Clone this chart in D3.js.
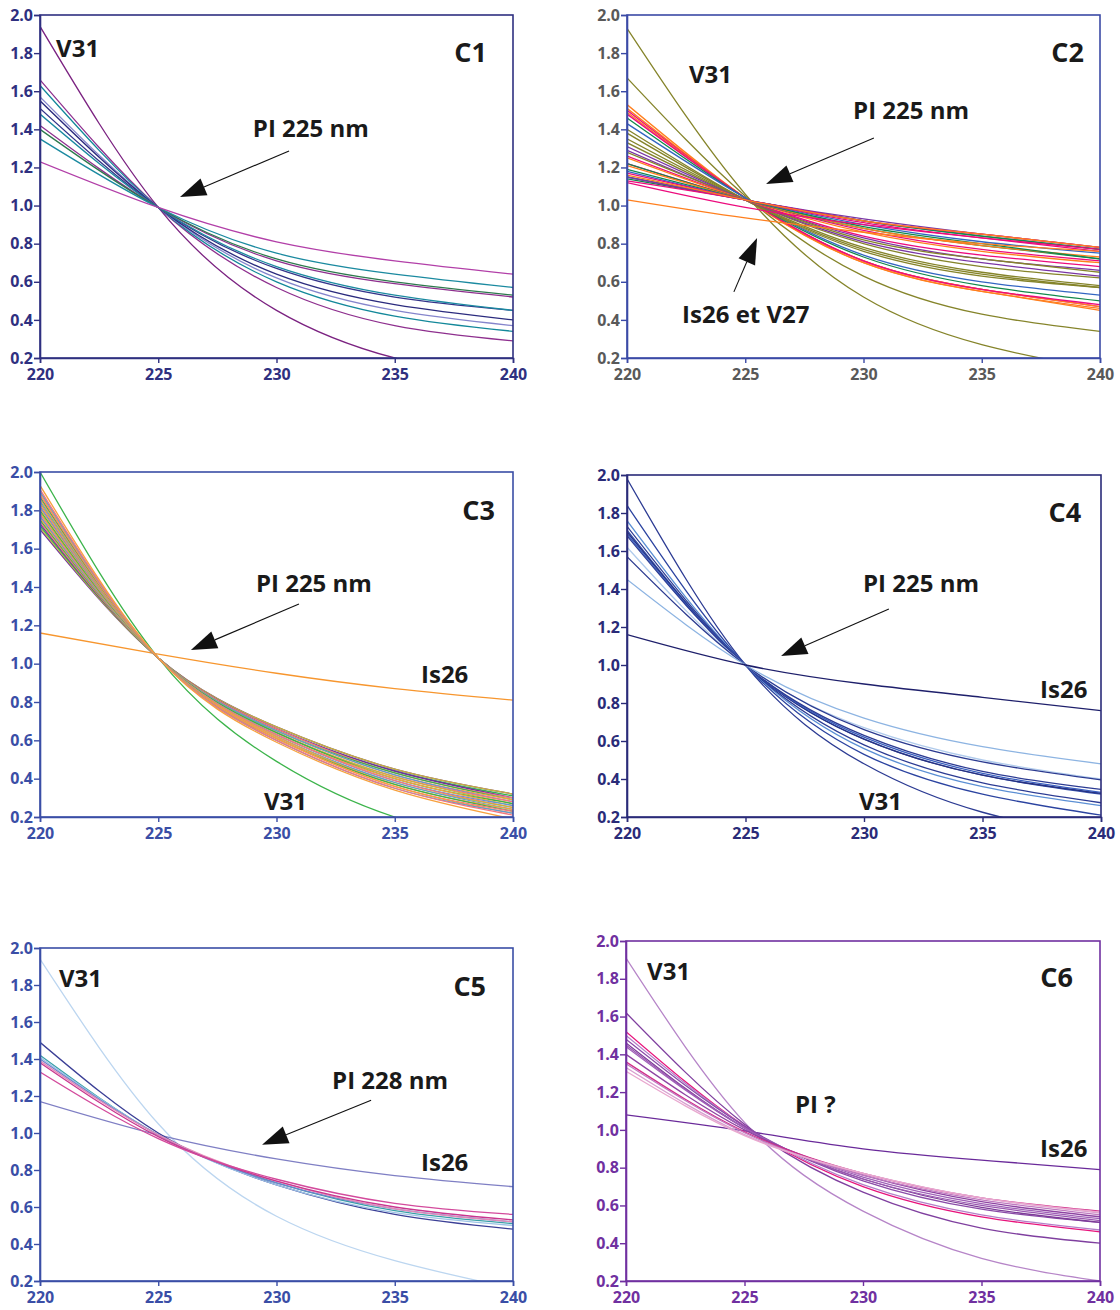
<!DOCTYPE html>
<html><head><meta charset="utf-8">
<script src="https://cdn.jsdelivr.net/npm/d3@7"></script>
<style>
body{margin:0;background:#fff}
svg{display:block}
text{font-family:"Open Sans","DejaVu Sans",sans-serif;font-weight:700}
</style>
</head><body>
<svg id="chart" width="1120" height="1310"></svg>
<script>
// ---------- DATA ----------
const wavelengths = [220, 225, 230, 235, 240];
const xTickValues = [220, 225, 230, 235, 240];
const yTickValues = [0.2, 0.4, 0.6, 0.8, 1.0, 1.2, 1.4, 1.6, 1.8, 2.0];

// C1 — values at 220, 225, 230, 235, 240 nm
const c1Curves = [
  [1.94, 0.99, 0.45, 0.20, 0.08],
  [1.66, 0.99, 0.57, 0.37, 0.29],
  [1.63, 0.99, 0.60, 0.42, 0.34],
  [1.57, 0.99, 0.62, 0.45, 0.37],
  [1.55, 0.99, 0.64, 0.48, 0.40],
  [1.51, 0.99, 0.67, 0.52, 0.45],
  [1.48, 0.99, 0.68, 0.53, 0.45],
  [1.42, 0.99, 0.71, 0.59, 0.52],
  [1.40, 0.99, 0.72, 0.60, 0.53],
  [1.35, 0.99, 0.75, 0.64, 0.57],
  [1.23, 0.99, 0.81, 0.71, 0.64]
];
const c1Colors = ["#7b2281","#8e2f8e","#13889a","#8585cc","#2b2b7e","#34348a","#1b8aa0","#8e2f8e","#2d7a4d","#1b8aa0","#b23fa8"];

// C2
const c2Curves = [
  [1.93, 1.06, 0.52, 0.27, 0.14],
  [1.67, 1.05, 0.63, 0.43, 0.34],
  [1.53, 1.04, 0.70, 0.55, 0.45],
  [1.51, 1.04, 0.70, 0.55, 0.46],
  [1.50, 1.04, 0.71, 0.56, 0.47],
  [1.49, 1.04, 0.71, 0.56, 0.47],
  [1.48, 1.04, 0.71, 0.56, 0.48],
  [1.46, 1.04, 0.73, 0.58, 0.50],
  [1.43, 1.04, 0.74, 0.60, 0.53],
  [1.40, 1.03, 0.76, 0.63, 0.57],
  [1.38, 1.03, 0.77, 0.64, 0.57],
  [1.35, 1.03, 0.78, 0.65, 0.58],
  [1.33, 1.03, 0.80, 0.68, 0.62],
  [1.31, 1.03, 0.81, 0.70, 0.63],
  [1.29, 1.03, 0.83, 0.72, 0.66],
  [1.28, 1.03, 0.82, 0.72, 0.65],
  [1.26, 1.03, 0.84, 0.74, 0.68],
  [1.25, 1.03, 0.86, 0.76, 0.70],
  [1.22, 1.03, 0.87, 0.77, 0.71],
  [1.22, 1.03, 0.88, 0.79, 0.72],
  [1.21, 1.03, 0.88, 0.79, 0.73],
  [1.19, 1.03, 0.89, 0.80, 0.72],
  [1.18, 1.03, 0.90, 0.81, 0.75],
  [1.17, 1.03, 0.91, 0.83, 0.76],
  [1.15, 1.03, 0.92, 0.84, 0.77],
  [1.14, 1.03, 0.92, 0.84, 0.77],
  [1.15, 1.03, 0.93, 0.85, 0.78],
  [1.13, 1.03, 0.92, 0.85, 0.78],
  [1.16, 1.03, 0.92, 0.85, 0.78],
  [1.12, 0.99, 0.90, 0.83, 0.77],
  [1.03, 0.935, 0.86, 0.80, 0.76]
];
const c2Colors = ["#85842a","#85842a","#ff7f1e","#ff7f1e","#ec0b7d","#ff7f1e","#ec0b7d","#12884a","#3366c2",
  "#85842a","#85842a","#85842a","#85842a","#7a35a5","#7a35a5","#85842a","#ec0b7d","#ff7f1e","#ec0b7d",
  "#12884a","#ff7f1e","#12884a","#3366c2","#ec0b7d","#12884a","#12884a","#7a35a5","#ec0b7d","#ff7f1e","#ec0b7d","#ff7f1e"];

// C3
const c3Curves = [
  [2.00, 1.03, 0.49, 0.20, 0.06],
  [1.16, 1.05, 0.95, 0.87, 0.81],
  [1.70, 1.03, 0.67, 0.45, 0.32],
  [1.71, 1.03, 0.67, 0.45, 0.32],
  [1.72, 1.03, 0.66, 0.44, 0.31],
  [1.73, 1.03, 0.66, 0.44, 0.30],
  [1.74, 1.03, 0.66, 0.43, 0.30],
  [1.75, 1.03, 0.65, 0.43, 0.29],
  [1.76, 1.03, 0.65, 0.42, 0.29],
  [1.77, 1.03, 0.65, 0.42, 0.28],
  [1.78, 1.03, 0.64, 0.41, 0.28],
  [1.79, 1.03, 0.64, 0.41, 0.27],
  [1.80, 1.03, 0.64, 0.40, 0.27],
  [1.81, 1.03, 0.63, 0.40, 0.26],
  [1.82, 1.03, 0.63, 0.39, 0.26],
  [1.83, 1.03, 0.63, 0.39, 0.25],
  [1.84, 1.03, 0.62, 0.38, 0.25],
  [1.85, 1.03, 0.62, 0.38, 0.24],
  [1.86, 1.03, 0.62, 0.37, 0.24],
  [1.87, 1.03, 0.61, 0.37, 0.23],
  [1.88, 1.03, 0.61, 0.36, 0.23],
  [1.89, 1.03, 0.61, 0.36, 0.22],
  [1.90, 1.03, 0.60, 0.35, 0.22],
  [1.91, 1.03, 0.60, 0.35, 0.21],
  [1.93, 1.03, 0.59, 0.34, 0.19]
];
const c3Colors = ["#3cb44b","#f7962e","#7030a0","#c8b43c","#3cb44b","#7030a0","#f4777f","#3cb44b","#f7a13e","#5b9bd5",
  "#f4777f","#c8b43c","#3cb44b","#f7a13e","#5b9bd5","#f4777f","#c8b43c","#5b9bd5","#f7a13e","#3cb44b","#f4777f",
  "#f7a13e","#5b9bd5","#f4777f","#f7a13e"];

// C4
const c4Curves = [
  [1.98, 1.00, 0.48, 0.225, 0.10],
  [1.84, 1.00, 0.53, 0.32, 0.21],
  [1.76, 1.00, 0.56, 0.36, 0.26],
  [1.73, 1.00, 0.58, 0.38, 0.275],
  [1.71, 1.00, 0.61, 0.42, 0.32],
  [1.70, 1.00, 0.61, 0.42, 0.325],
  [1.69, 1.00, 0.62, 0.43, 0.33],
  [1.68, 1.00, 0.63, 0.44, 0.345],
  [1.62, 1.00, 0.67, 0.50, 0.40],
  [1.57, 1.00, 0.66, 0.49, 0.395],
  [1.45, 1.00, 0.72, 0.57, 0.48],
  [1.16, 1.00, 0.90, 0.83, 0.76]
];
const c4Colors = ["#2c3b93","#2b43a0","#5b8fd4","#2c3b93","#3451ad","#27307f","#3a5fbf","#2c3b93","#b0cbec","#2b3a90","#8db4e2","#1e1f6b"];

// C5
const c5Curves = [
  [1.94, 1.05, 0.55, 0.31, 0.16],
  [1.17, 0.99, 0.86, 0.77, 0.71],
  [1.49, 1.00, 0.72, 0.56, 0.48],
  [1.42, 0.99, 0.73, 0.58, 0.51],
  [1.41, 0.99, 0.72, 0.57, 0.50],
  [1.40, 0.99, 0.73, 0.59, 0.52],
  [1.39, 0.99, 0.74, 0.59, 0.52],
  [1.38, 0.98, 0.74, 0.60, 0.53],
  [1.33, 0.97, 0.75, 0.62, 0.56]
];
const c5Colors = ["#bcd6f0","#7f7fc4","#3b3f96","#3aa0a8","#9dc3e6","#6a85cc","#e58ab8","#c9378f","#d34a9c"];

// C6
const c6Curves = [
  [1.91, 1.04, 0.57, 0.32, 0.20],
  [1.08, 0.995, 0.90, 0.84, 0.79],
  [1.62, 1.03, 0.67, 0.48, 0.40],
  [1.52, 1.02, 0.70, 0.54, 0.46],
  [1.50, 1.02, 0.71, 0.55, 0.47],
  [1.48, 1.02, 0.73, 0.58, 0.51],
  [1.46, 1.01, 0.74, 0.59, 0.51],
  [1.45, 1.01, 0.74, 0.60, 0.52],
  [1.44, 1.01, 0.75, 0.61, 0.53],
  [1.40, 1.00, 0.76, 0.62, 0.54],
  [1.36, 0.99, 0.77, 0.64, 0.57],
  [1.35, 0.985, 0.76, 0.63, 0.55],
  [1.33, 0.975, 0.77, 0.64, 0.56],
  [1.31, 0.97, 0.77, 0.64, 0.565]
];
const c6Colors = ["#b685c8","#6a2a9a","#7f3f9f","#e8137b","#b280c8","#8a4aa8","#7d3c98","#9a58b0","#a060b8","#8e44a2","#d22f8a","#c07ac0","#d8a0d0","#e9a8cf"];

// Annotations (data coordinates: wavelength, value)
const c1Notes = [
  {text:"V31", x:220.68, y:1.78, kind:"label"},
  {text:"C1", x:238.9, y:1.753, kind:"title"},
  {text:"PI 225 nm", x:229.0, y:1.36, kind:"label"}
];
const c1Arrows = [{x1:230.53, y1:1.286, x2:225.92, y2:1.045}];
const c2Notes = [
  {text:"V31", x:222.62, y:1.643, kind:"label"},
  {text:"C2", x:239.32, y:1.753, kind:"title"},
  {text:"PI 225 nm", x:229.56, y:1.454, kind:"label"},
  {text:"Is26 et V27", x:222.33, y:0.384, kind:"label"}
];
const c2Arrows = [{x1:230.44, y1:1.355, x2:225.88, y2:1.113}, {x1:224.52, y1:0.547, x2:225.50, y2:0.830}];
const c3Notes = [
  {text:"C3", x:239.24, y:1.75, kind:"title"},
  {text:"PI 225 nm", x:229.13, y:1.374, kind:"label"},
  {text:"Is26", x:236.11, y:0.899, kind:"label"},
  {text:"V31", x:229.47, y:0.237, kind:"label"}
];
const c3Arrows = [{x1:230.95, y1:1.311, x2:226.38, y2:1.071}];
const c4Notes = [
  {text:"C4", x:239.16, y:1.753, kind:"title"},
  {text:"PI 225 nm", x:229.96, y:1.384, kind:"label"},
  {text:"Is26", x:237.43, y:0.826, kind:"label"},
  {text:"V31", x:229.79, y:0.237, kind:"label"}
];
const c4Arrows = [{x1:231.05, y1:1.295, x2:226.50, y2:1.047}];
const c5Notes = [
  {text:"V31", x:220.80, y:1.79, kind:"label"},
  {text:"C5", x:238.86, y:1.738, kind:"title"},
  {text:"PI 228 nm", x:232.35, y:1.236, kind:"label"},
  {text:"Is26", x:236.11, y:0.793, kind:"label"}
];
const c5Arrows = [{x1:234.0, y1:1.177, x2:229.39, y2:0.937}];
const c6Notes = [
  {text:"V31", x:220.89, y:1.796, kind:"label"},
  {text:"C6", x:238.86, y:1.754, kind:"title"},
  {text:"PI ?", x:227.13, y:1.089, kind:"label"},
  {text:"Is26", x:237.47, y:0.859, kind:"label"}
];
const c6Arrows = [];

// ---------- LAYOUT ----------
const panels = [
  {id:"c1", curves:c1Curves, colors:c1Colors, notes:c1Notes, arrows:c1Arrows, box:[40,513,15,358], axis:"#2f3080", tick:"#2f3080"},
  {id:"c2", curves:c2Curves, colors:c2Colors, notes:c2Notes, arrows:c2Arrows, box:[627,1100,15,358], axis:"#3b4aa6", tick:"#595959"},
  {id:"c3", curves:c3Curves, colors:c3Colors, notes:c3Notes, arrows:c3Arrows, box:[40,513,472,817], axis:"#3a4ea6", tick:"#3a4ea6"},
  {id:"c4", curves:c4Curves, colors:c4Colors, notes:c4Notes, arrows:c4Arrows, box:[627,1101,475,817], axis:"#2a2b78", tick:"#2a2b78"},
  {id:"c5", curves:c5Curves, colors:c5Colors, notes:c5Notes, arrows:c5Arrows, box:[40,513,948,1281], axis:"#3a4ea6", tick:"#3a4ea6"},
  {id:"c6", curves:c6Curves, colors:c6Colors, notes:c6Notes, arrows:c6Arrows, box:[626,1100,941,1281], axis:"#7030a0", tick:"#7030a0"}
];

const svg = d3.select("#chart");
const defs = svg.append("defs");

panels.forEach(p => {
  const [x0, x1, y0, y1] = p.box;
  const x = d3.scaleLinear().domain([220, 240]).range([x0, x1]);
  const y = d3.scaleLinear().domain([0.2, 2.0]).range([y1, y0]);
  const g = svg.append("g");

  defs.append("clipPath").attr("id", "clip-" + p.id)
    .append("rect").attr("x", x0).attr("y", y0).attr("width", x1 - x0).attr("height", y1 - y0);

  const line = d3.line()
    .x((d, i) => x(wavelengths[i]))
    .y(d => y(d))
    .curve(d3.curveNatural);

  g.append("g").attr("clip-path", "url(#clip-" + p.id + ")")
    .selectAll("path").data(p.curves).join("path")
    .attr("d", line)
    .attr("fill", "none")
    .attr("stroke", (d, i) => p.colors[i])
    .attr("stroke-width", 1.3);

  // frame
  g.append("rect").attr("x", x0).attr("y", y0).attr("width", x1 - x0).attr("height", y1 - y0)
    .attr("fill", "none").attr("stroke", p.axis).attr("stroke-width", 1.6);

  const yAxis = g.append("g").attr("transform", `translate(${x0},0)`)
    .call(d3.axisLeft(y).tickValues(yTickValues).tickFormat(d3.format(".1f")).tickSize(6).tickPadding(1));
  const xAxis = g.append("g").attr("transform", `translate(0,${y1})`)
    .call(d3.axisBottom(x).tickValues(xTickValues).tickFormat(d3.format("d")).tickSize(5).tickPadding(6));
  [yAxis, xAxis].forEach(a => {
    a.select(".domain").attr("stroke", p.axis).attr("stroke-width", 1.6);
    a.selectAll(".tick line").attr("stroke", p.axis).attr("stroke-width", 1.4);
    a.selectAll(".tick text").attr("fill", p.tick).attr("font-size", 16)
      .attr("font-family", "'Open Sans', sans-serif").attr("font-weight", 700);
  });

  // arrows
  p.arrows.forEach(a => {
    const sx = x(a.x1), sy = y(a.y1), tx = x(a.x2), ty = y(a.y2);
    const dx = tx - sx, dy = ty - sy, len = Math.hypot(dx, dy);
    const ux = dx / len, uy = dy / len;
    const hl = 26, hw = 9;
    const bx = tx - ux * hl, by = ty - uy * hl;
    g.append("line").attr("x1", sx).attr("y1", sy).attr("x2", bx).attr("y2", by)
      .attr("stroke", "#111").attr("stroke-width", 1.1);
    g.append("path")
      .attr("d", `M${tx},${ty}L${bx - uy * hw},${by + ux * hw}L${bx + uy * hw},${by - ux * hw}Z`)
      .attr("fill", "#111");
  });

  // notes
  g.selectAll("text.note").data(p.notes).join("text")
    .attr("class", "note")
    .attr("x", d => x(d.x)).attr("y", d => y(d.y))
    .attr("text-anchor", d => d.kind === "title" ? "end" : "start")
    .attr("font-size", d => d.kind === "title" ? 27 : 24)
    .attr("fill", "#1a1a1a")
    .text(d => d.text);
});
</script>
</body></html>
